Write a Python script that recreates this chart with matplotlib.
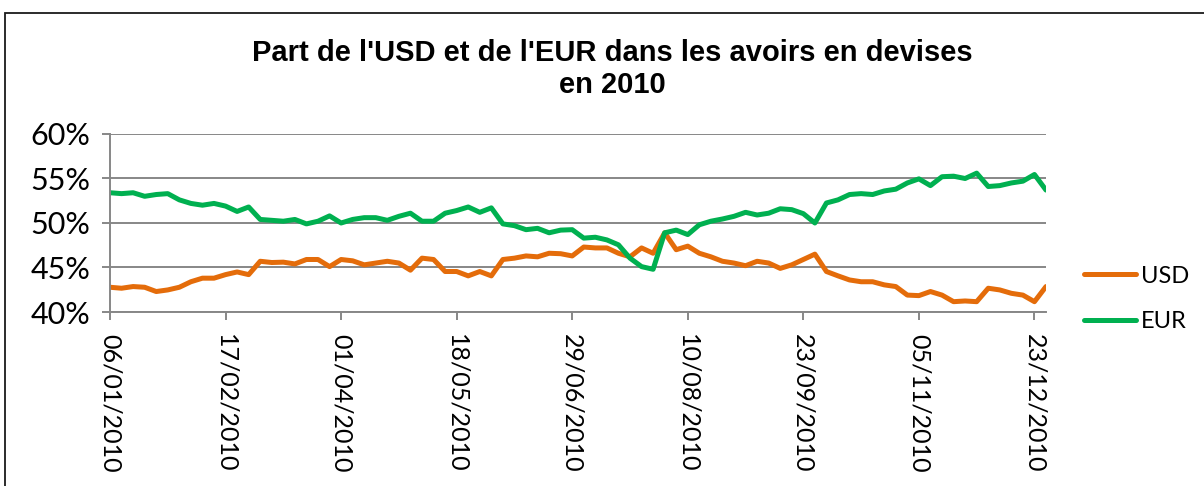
import matplotlib
matplotlib.use("Agg")
import matplotlib.pyplot as plt
from matplotlib.patches import Rectangle

# ---- data ----
sample_days = list(range(0, 244, 3))  # business-day index of each sample
eur = [53.4, 53.3, 53.4, 53.0, 53.2, 53.3, 52.6, 52.2, 52.0, 52.2, 51.9, 51.3, 51.8, 50.4,
       50.3, 50.2, 50.4, 49.9, 50.2, 50.8, 50.0, 50.4, 50.6, 50.6, 50.3, 50.75, 51.1, 50.2,
       50.2, 51.1, 51.4, 51.8, 51.2, 51.7, 49.9, 49.7, 49.25, 49.4, 48.9, 49.2, 49.25, 48.3,
       48.4, 48.1, 47.55, 46.05, 45.1, 44.8, 48.9, 49.2, 48.7, 49.8, 50.2, 50.45, 50.75, 51.2,
       50.9, 51.1, 51.6, 51.5, 51.05, 50.0, 52.25, 52.6, 53.2, 53.3, 53.2, 53.6, 53.8,
       54.5, 54.96, 54.2, 55.2, 55.26, 55.0, 55.6, 54.1, 54.2, 54.5, 54.7, 55.45, 53.7]
usd = [42.78, 42.67, 42.86, 42.78, 42.3, 42.48, 42.78, 43.4, 43.8, 43.8, 44.2, 44.5, 44.2, 45.7,
       45.56, 45.6, 45.4, 45.9, 45.9, 45.1, 45.9, 45.75, 45.3, 45.5, 45.7, 45.5, 44.7, 46.05,
       45.9, 44.55, 44.55, 44.06, 44.55, 44.06, 45.9, 46.05, 46.3, 46.2, 46.6, 46.55, 46.3, 47.3,
       47.2, 47.2, 46.6, 46.2, 47.2, 46.6, 48.9, 47.0, 47.4, 46.6, 46.2, 45.7, 45.5, 45.2,
       45.7, 45.5, 44.9, 45.3, 45.9, 46.5, 44.55, 44.06, 43.6, 43.4, 43.4, 43.05, 42.86,
       41.9, 41.84, 42.3, 41.9, 41.16, 41.24, 41.16, 42.67, 42.48, 42.1, 41.9, 41.16, 42.86]
tick_days = [0, 30, 60, 90, 120, 150, 180, 210, 240]
tick_labels = ['06/01/2010', '17/02/2010', '01/04/2010', '18/05/2010', '29/06/2010',
               '10/08/2010', '23/09/2010', '05/11/2010', '23/12/2010']
y_ticks = [40, 45, 50, 55, 60]
y_tick_labels = ['40%', '45%', '50%', '55%', '60%']
title = "Part de l'USD et de l'EUR dans les avoirs en devises\nen 2010"

# ---- style ----
W, H = 1204, 486
fig = plt.figure(figsize=(W / 100, H / 100), dpi=100)
ax = fig.add_axes([110 / W, 1 - 312 / H, (1046 - 110) / W, (312 - 134) / H])

usd_color = '#E46C0A'
eur_color = '#00B050'
grid_color = '#878787'

ax.plot(sample_days, usd, color=usd_color, lw=3.6, label='USD', solid_capstyle='round',
        solid_joinstyle='round')
ax.plot(sample_days, eur, color=eur_color, lw=3.6, label='EUR', solid_capstyle='round',
        solid_joinstyle='round')

ax.set_xlim(0, 243)
ax.set_ylim(40, 60)
ax.set_yticks(y_ticks)
ax.set_yticklabels(y_tick_labels, fontsize=22, family='Lato')
ax.set_xticks(tick_days)
ax.set_xticklabels(tick_labels, rotation=-90, ha='center', va='top', fontsize=18,
                   family='Lato')
ax.yaxis.grid(True, color=grid_color, lw=1.4)
ax.set_axisbelow(True)
for s in ['top', 'right']:
    ax.spines[s].set_visible(False)
for s in ['left', 'bottom']:
    ax.spines[s].set_color(grid_color)
    ax.spines[s].set_linewidth(1.4)
ax.tick_params(axis='both', direction='out', length=6, width=1.4, color=grid_color)
ax.tick_params(axis='x', pad=10)
ax.tick_params(axis='y', pad=8)

fig.text(612 / W, 1 - 69 / H, title, ha='center', va='center', fontsize=21,
         fontweight='bold', family='Liberation Sans', linespacing=1.15)

leg = fig.legend(loc='center left', bbox_to_anchor=(1084 / W, 1 - 299 / H), frameon=False,
                 prop={'family': 'Lato', 'size': 17}, handlelength=2.2,
                 handletextpad=0.2, labelspacing=1.05, borderpad=0, borderaxespad=0)

fig.patches.append(Rectangle((5 / W, -0.2), 1.5, 1.2 - 13 / H, transform=fig.transFigure,
                             fill=False, ec='#1a1a1a', lw=1.3))

fig.savefig('out.png', dpi=100)
